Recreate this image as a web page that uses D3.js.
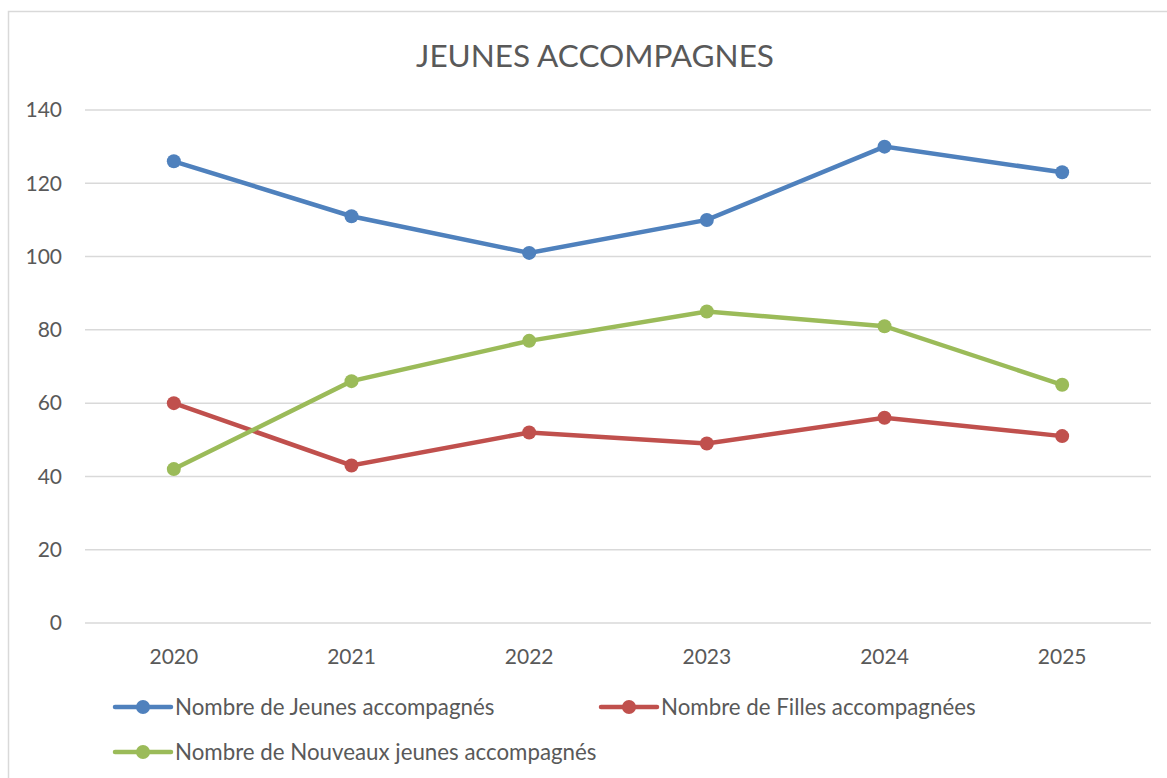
<!DOCTYPE html>
<html>
<head>
<meta charset="utf-8">
<script src="https://cdn.jsdelivr.net/npm/d3@7"></script>
<style>
  body { margin: 0; background: #fff; }
  svg { display: block; font-family: Lato, "Open Sans", sans-serif; }
</style>
</head>
<body>
<svg id="grafico" width="1167" height="778"></svg>
<script>
const annees = ["2020", "2021", "2022", "2023", "2024", "2025"];
const jeunes = [126, 111, 101, 110, 130, 123];
const filles = [60, 43, 52, 49, 56, 51];
const nouveaux = [42, 66, 77, 85, 81, 65];
const yTicks = [0, 20, 40, 60, 80, 100, 120, 140];

const series = [
  { nom: "Nombre de Jeunes accompagnés", valeurs: jeunes, color: "#4F81BD" },
  { nom: "Nombre de Filles accompagnées", valeurs: filles, color: "#C0504D" },
  { nom: "Nombre de Nouveaux jeunes accompagnés", valeurs: nouveaux, color: "#9BBB59" }
];

const svg = d3.select("#grafico");

// cadre du graphique
svg.append("rect")
  .attr("x", 8.5).attr("y", 11.5)
  .attr("width", 1180).attr("height", 800)
  .attr("fill", "none").attr("stroke", "#d9d9d9").attr("stroke-width", 1.5);

const x = d3.scaleBand().domain(annees).range([85, 1151]);
const y = d3.scaleLinear().domain([0, 140]).range([623, 110]);

svg.append("text")
  .attr("x", 595).attr("y", 67)
  .attr("text-anchor", "middle")
  .attr("font-size", 31.5)
  .attr("fill", "#595959")
  .text("JEUNES ACCOMPAGNES");

// grille
svg.append("g")
  .selectAll("line")
  .data(yTicks)
  .join("line")
  .attr("x1", 85).attr("x2", 1151)
  .attr("y1", d => y(d)).attr("y2", d => y(d))
  .attr("stroke", "#d9d9d9").attr("stroke-width", 1.5);

svg.append("g")
  .selectAll("text")
  .data(yTicks)
  .join("text")
  .attr("x", 62).attr("y", d => y(d))
  .attr("dy", "0.35em")
  .attr("text-anchor", "end")
  .attr("font-size", 21)
  .attr("fill", "#595959")
  .text(d => d);

svg.append("g")
  .selectAll("text")
  .data(annees)
  .join("text")
  .attr("x", d => x(d) + x.bandwidth() / 2).attr("y", 657)
  .attr("dy", "0.35em")
  .attr("text-anchor", "middle")
  .attr("font-size", 21)
  .attr("fill", "#595959")
  .text(d => d);

const line = d3.line()
  .x((d, i) => x(annees[i]) + x.bandwidth() / 2)
  .y(d => y(d));

const g = svg.append("g")
  .selectAll("g")
  .data(series)
  .join("g");

g.append("path")
  .attr("d", d => line(d.valeurs))
  .attr("fill", "none")
  .attr("stroke", d => d.color)
  .attr("stroke-width", 4.5)
  .attr("stroke-linecap", "round");

g.selectAll("circle")
  .data(d => d.valeurs.map((v, i) => ({ v, i, color: d.color })))
  .join("circle")
  .attr("cx", d => x(annees[d.i]) + x.bandwidth() / 2)
  .attr("cy", d => y(d.v))
  .attr("r", 7)
  .attr("fill", d => d.color);

// légende
const legendePos = [
  { x: 115, y: 707 },
  { x: 601, y: 707 },
  { x: 115, y: 752 }
];

const leg = svg.append("g")
  .selectAll("g")
  .data(series)
  .join("g")
  .attr("transform", (_, i) => `translate(${legendePos[i].x},${legendePos[i].y})`);

leg.append("line")
  .attr("x1", 0).attr("x2", 56)
  .attr("stroke", d => d.color)
  .attr("stroke-width", 4.5)
  .attr("stroke-linecap", "round");

leg.append("circle")
  .attr("cx", 28).attr("r", 7)
  .attr("fill", d => d.color);

leg.append("text")
  .attr("x", 60).attr("dy", "0.35em")
  .attr("font-size", 22.3)
  .attr("fill", "#595959")
  .text(d => d.nom);
</script>
</body>
</html>
